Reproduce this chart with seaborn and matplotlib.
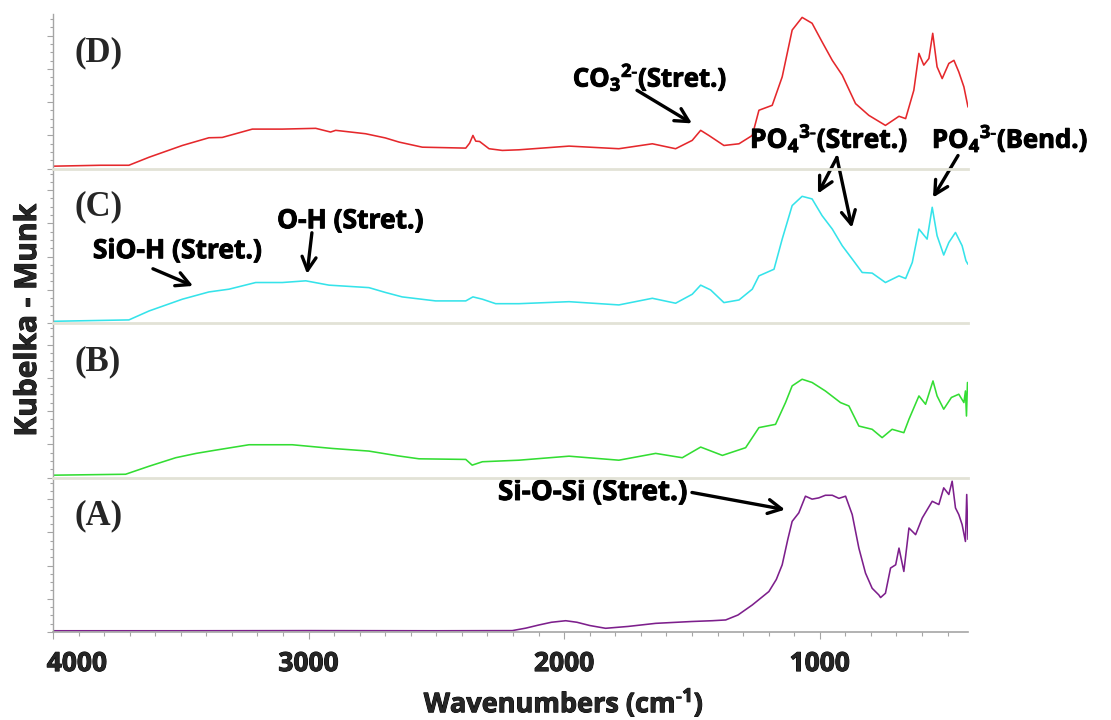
import numpy as np
import pandas as pd
import matplotlib
matplotlib.use("Agg")
import matplotlib.pyplot as plt
import matplotlib.patheffects as pe
import seaborn as sns
from matplotlib.ticker import MultipleLocator, FixedLocator
from matplotlib.transforms import ScaledTranslation

# ---- DRIFT spectra: wavenumber (cm-1) and Kubelka-Munk intensity (relative units) ----
wn_a = [4000, 3500, 3000, 2500, 2203, 2150, 2100, 2050, 1994, 1950, 1900, 1838, 1750, 1642,
        1500, 1421, 1368, 1320, 1264, 1199, 1170, 1147, 1125, 1108, 1082, 1056, 1030, 1004, 978,
        951, 925, 899, 873, 847, 821, 795, 769, 762, 743, 723, 703, 690, 671, 651, 625, 599, 560,
        534, 515, 495, 482, 469, 456, 443, 430, 425, 420]
km_a = [0.8, 0.8, 0.9, 0.8, 0.9, 2.5, 4.5, 6.3, 7.3, 6.3, 4.2, 2.4, 3.6, 5.6,
        6.8, 7.3, 7.8, 11.0, 17.5, 26.2, 34.0, 43.5, 60.0, 71.6, 77.1, 87.9, 86.0, 86.8, 88.5,
        88.5, 86.5, 87.9, 76.0, 54.3, 38.1, 28.3, 24.0, 22.3, 25.1, 41.4, 43.5, 54.3, 39.2, 67.3, 63.0, 73.8, 84.6,
        82.5, 93.3, 89.0, 97.6, 80.3, 76.0, 69.5, 58.6, 89.0, 60.0]

wn_b = [4000, 3716, 3624, 3520, 3440, 3364, 3233, 3064, 2907, 2764, 2650, 2568, 2385, 2360,
        2320, 2177, 1981, 1786, 1642, 1538, 1466, 1381, 1290, 1238, 1173, 1134, 1108, 1069, 1030,
        978, 919, 886, 847, 795, 756, 717, 671, 651, 612, 586, 557, 541, 515, 485, 456, 436, 430,
        426, 422]
km_b = [1.5, 2.1, 7.3, 12.8, 15.6, 17.7, 21.2, 21.2, 18.8, 17.1, 14.0, 12.1, 11.7, 8.0,
        10.2, 11.2, 13.8, 11.2, 15.6, 12.8, 19.7, 14.3, 19.3, 32.3, 34.4, 48.5, 59.3, 63.6, 61.5,
        56.0, 48.5, 46.3, 33.3, 31.2, 25.8, 31.2, 29.0, 37.7, 52.8, 47.4, 62.5, 52.8, 44.2, 51.8, 53.9, 48.5, 56.0,
        39.8, 61.5]

wn_c = [4000, 3703, 3624, 3494, 3390, 3311, 3207, 3103, 3011, 2920, 2764, 2700, 2634, 2503,
        2385, 2357, 2320, 2268, 2177, 1981, 1786, 1655, 1564, 1499, 1466, 1427, 1375, 1316, 1264,
        1238, 1179, 1147, 1108, 1069, 1030, 991, 951, 912, 873, 834, 795, 743, 690, 664, 638, 612,
        580, 560, 541, 515, 495, 469, 443, 428, 420]
km_c = [1.1, 2.0, 7.8, 15.4, 20.1, 21.9, 26.2, 26.2, 27.3, 24.5, 22.9, 19.8, 16.9, 14.3,
        14.3, 16.9, 15.4, 12.5, 12.5, 13.8, 11.7, 16.0, 12.8, 18.6, 24.5, 21.4, 13.2, 14.9, 21.9,
        30.5, 34.8, 54.3, 76.0, 82.0, 80.3, 69.5, 60.8, 50.0, 41.4, 32.7, 32.3, 26.2, 30.5, 28.8, 39.2, 60.8,
        54.3, 74.9, 56.5, 44.0, 52.1, 58.6, 50.0, 40.3, 38.0]

wn_d = [4000, 3813, 3703, 3624, 3494, 3390, 3338, 3220, 3103, 2972, 2914, 2894, 2777, 2700,
        2646, 2555, 2385, 2370, 2357, 2346, 2331, 2294, 2242, 2177, 1981, 1786, 1655, 1564, 1499,
        1466, 1434, 1375, 1316, 1264, 1238, 1186, 1147, 1108, 1069, 1030, 991, 951, 912, 860, 808,
        743, 690, 664, 632, 612, 593, 573, 558, 541, 521, 495, 475, 456, 436, 420]
km_d = [1.5, 2.1, 2.1, 7.3, 14.9, 19.9, 20.1, 25.5, 25.5, 26.0, 23.6, 24.7, 22.5, 19.8,
        17.1, 13.8, 13.2, 16.4, 21.4, 17.7, 17.5, 12.8, 11.7, 12.1, 14.5, 12.8, 16.0, 12.8, 18.2,
        24.7, 21.4, 14.9, 16.0, 21.4, 37.7, 40.9, 59.3, 89.6, 97.8, 94.0, 82.0, 70.0, 60.4, 42.0, 34.4,
        27.9, 33.8, 32.3, 50.6, 74.5, 66.9, 71.2, 87.5, 65.8, 58.2, 68.0, 70.0, 62.5, 52.8, 39.8]

panel_names = ["(A)", "(B)", "(C)", "(D)"]
line_colors = ["#7d1f8c", "#33dd33", "#35e3ea", "#e5282c"]

SANS = ["Open Sans", "DejaVu Sans"]
HEAVY = [pe.withStroke(linewidth=0.7, foreground="black")]

sns.set_theme(style="white")
plt.rcParams["font.family"] = SANS
plt.rcParams["mathtext.fontset"] = "custom"
plt.rcParams["mathtext.rm"] = "Open Sans:bold"
plt.rcParams["mathtext.it"] = "Open Sans:bold"
plt.rcParams["mathtext.bf"] = "Open Sans:bold"

spectra = [(wn_a, km_a), (wn_b, km_b), (wn_c, km_c), (wn_d, km_d)]

fig = plt.figure(figsize=(11.11, 7.2), dpi=100)
W, H = 1111, 720
left_px, right_px = 53, 968
bottom_px, panel_px = 632, 154.5
axes = []
for i, ((wn, km), name, col) in enumerate(zip(spectra, panel_names, line_colors)):
    b = bottom_px - i * panel_px
    ax = fig.add_axes([left_px / W, 1 - b / H, (right_px - left_px) / W, panel_px / H])
    ax.set_facecolor("none")
    df = pd.DataFrame({"wavenumber": wn, "km": km})
    sns.lineplot(data=df, x="wavenumber", y="km", ax=ax, color=col, lw=1.15,
                 estimator=None, sort=True)
    ax.set_xlim(4000, 420)
    ax.set_ylim(0, 100)
    ax.set_xlabel("")
    ax.set_ylabel("")
    for s in ("top", "right"):
        ax.spines[s].set_visible(False)
    ax.spines["left"].set_color("#a5a5a5")
    ax.spines["left"].set_linewidth(1.0)
    ax.yaxis.set_major_locator(MultipleLocator(21.5))
    ax.yaxis.set_minor_locator(MultipleLocator(21.5 / 4))
    ax.tick_params(axis="y", which="both", left=True, labelleft=False,
                   direction="out", color="#a5a5a5", width=0.8)
    ax.tick_params(axis="y", which="major", length=4)
    ax.tick_params(axis="y", which="minor", length=2)
    if i == 0:
        ax.spines["bottom"].set_color("#a5a5a5")
        ax.spines["bottom"].set_linewidth(1.2)
        ax.xaxis.set_major_locator(FixedLocator([4000, 3000, 2000, 1000]))
        ax.xaxis.set_minor_locator(MultipleLocator(100))
        ax.tick_params(axis="x", which="both", bottom=True, direction="out",
                       color="#a5a5a5", width=0.8)
        ax.tick_params(axis="x", which="major", length=5, pad=8, labelsize=19)
        ax.tick_params(axis="x", which="minor", length=3)
        for lab in ax.get_xticklabels():
            lab.set_fontweight("bold")
            lab.set_fontfamily(SANS)
            lab.set_path_effects(HEAVY)
        first = ax.get_xticklabels()[0]
        first.set_transform(first.get_transform() + ScaledTranslation(0.24, 0, fig.dpi_scale_trans))
    else:
        ax.spines["bottom"].set_color("#e2e2d6")
        ax.spines["bottom"].set_linewidth(2.0)
        ax.tick_params(axis="x", which="both", bottom=False, labelbottom=False)
    ax.text(0.023, 0.75, name, transform=ax.transAxes, ha="left", va="center",
            fontsize=25, fontweight="bold", family=["Liberation Serif", "DejaVu Serif"])
    axes.append(ax)

ax_a, ax_b, ax_c, ax_d = axes

note_kw = dict(fontsize=18.5, fontweight="bold", color="black",
               family=SANS, ha="left", va="center", path_effects=HEAVY)
arrow_kw = dict(arrowstyle="->,head_length=0.8,head_width=0.42", lw=2.4, color="black",
                shrinkA=0, shrinkB=0)

# Carbonate band
ax_d.text(1966, 59.1, "CO$_3$$^{2\u2010}$(Stret.)", **note_kw)
ax_d.annotate("", xy=(1500, 29.2), xytext=(1715, 50.6), arrowprops=arrow_kw,
              annotation_clip=False)

# Phosphate bands
ax_d.text(1273, 19.5, "PO$_4$$^{3\u2010}$(Stret.)", **{**note_kw, "fontsize": 19})
ax_d.text(561, 19.5, "PO$_4$$^{3\u2010}$(Bend.)", **note_kw)
ax_c.annotate("", xy=(1007, 83.8), xytext=(933, 107.1), arrowprops=arrow_kw,
              annotation_clip=False)
ax_c.annotate("", xy=(874, 61.7), xytext=(933, 107.1), arrowprops=arrow_kw,
              annotation_clip=False)
ax_c.annotate("", xy=(557, 81.2), xytext=(459, 108.4), arrowprops=arrow_kw,
              annotation_clip=False)

# Hydroxyl bands
ax_c.text(2838, 66.2, "O-H (Stret.)", **{**note_kw, "ha": "center", "fontsize": 19})
ax_c.annotate("", xy=(3006, 31.8), xytext=(2987, 58.4), arrowprops=arrow_kw,
              annotation_clip=False)
ax_c.text(3844, 46.8, "SiO-H (Stret.)", **{**note_kw, "fontsize": 19})
ax_c.annotate("", xy=(3452, 24.0), xytext=(3609, 35.1), arrowprops=arrow_kw,
              annotation_clip=False)

# Siloxane band
ax_a.text(2259, 90.3, "Si-O-Si (Stret.)", **{**note_kw, "fontsize": 20})
ax_a.annotate("", xy=(1136, 79.2), xytext=(1500, 90.3), arrowprops=arrow_kw,
              annotation_clip=False)

fig.text(564 / W, 1 - 703 / H, "Wavenumbers (cm$^{\u20101}$)", ha="center", va="center",
         fontsize=19.5, fontweight="bold", family=SANS, path_effects=HEAVY)
fig.text(28 / W, 1 - 320 / H, "Kubelka - Munk", ha="center", va="center", rotation=90,
         fontsize=21.5, fontweight="bold", family=SANS, path_effects=HEAVY)

fig.savefig("out.png", dpi=100, facecolor="white")
